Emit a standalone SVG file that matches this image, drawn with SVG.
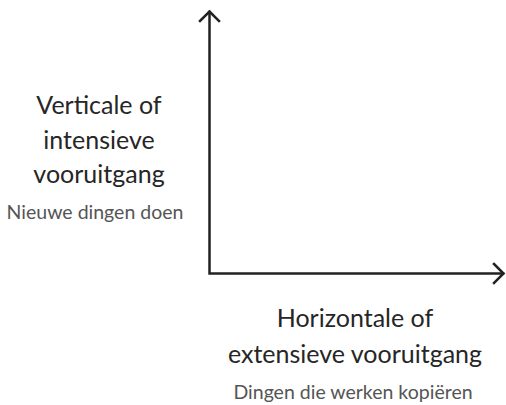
<svg xmlns="http://www.w3.org/2000/svg" width="506" height="405" viewBox="0 0 506 405">
<style>
.t{font-family:Lato,"Open Sans","Liberation Sans",sans-serif;font-size:25px;fill:#262626;text-anchor:middle}
.s{font-family:Lato,"Open Sans","Liberation Sans",sans-serif;font-size:19.5px;fill:#555;text-anchor:middle}
.ax{fill:none;stroke:#222;stroke-width:2.5;stroke-linecap:square}
</style>
<g id="connectors">
<path class="ax" d="M209.5 12 V273.5 H503"/>
<path class="ax" d="M200 21 L209.5 11.5 L219 21"/>
<path class="ax" d="M494 264 L503.5 273.5 L494 283"/>
</g>
<g id="vertical-label">
<text class="t" x="99" y="114">Verticale of</text>
<text class="t" x="99" y="149">intensieve</text>
<text class="t" x="99" y="183">vooruitgang</text>
<text class="s" x="95" y="219">Nieuwe dingen doen</text>
</g>
<g id="horizontal-label">
<text class="t" x="355" y="327">Horizontale of</text>
<text class="t" x="355" y="363">extensieve vooruitgang</text>
<text class="s" x="353" y="399">Dingen die werken kopiëren</text>
</g>
</svg>
